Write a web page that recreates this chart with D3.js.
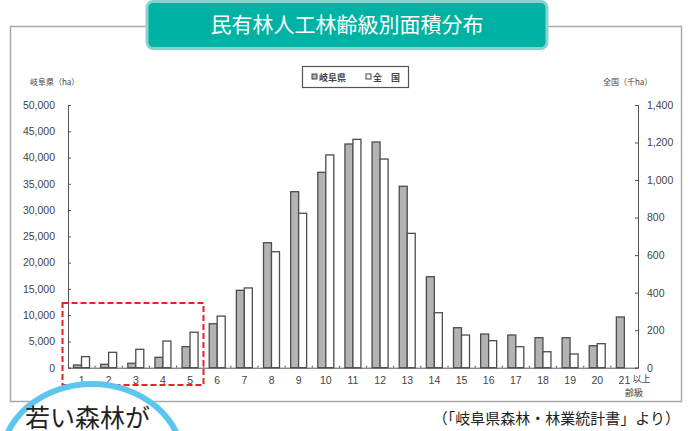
<!DOCTYPE html>
<html>
<head>
<meta charset="utf-8">
<script src="https://cdn.jsdelivr.net/npm/d3@7"></script>
<style>
  body { margin:0; background:#fff; }
  svg { display:block; font-family:"Noto Sans CJK JP", "Noto Sans", sans-serif; }
</style>
</head>
<body>
<div id="chart-area"></div>
<script>
// age classes (齢級)
const classes = ["1","2","3","4","5","6","7","8","9","10","11","12","13","14","15","16","17","18","19","20","21"];
// 岐阜県 (ha)
const gifu = [510, 650, 840, 1980, 4000, 8370, 14730, 23790, 33500, 37190, 42580, 42960, 34530, 17320, 7610, 6410, 6220, 5710, 5710, 4190, 9650];
// 全国 (千ha)
const zenkoku = [59, 82, 98, 142, 189, 275, 425, 618, 823, 1134, 1217, 1112, 716, 293, 174, 144, 112, 85, 73, 128, 0];
const leftTicks = [0, 5000, 10000, 15000, 20000, 25000, 30000, 35000, 40000, 45000, 50000];
const rightTicks = [0, 200, 400, 600, 800, 1000, 1200, 1400];

const W = 689, H = 431;
const plot = { left:68, right:638, top:105, bottom:367.7 };

const svg = d3.select("#chart-area")
    .append("svg")
    .attr("width", W)
    .attr("height", H);

// outer frame
svg.append("rect")
    .attr("x", 10.5).attr("y", 26.5)
    .attr("width", 671).attr("height", 375)
    .attr("fill", "#fff")
    .attr("stroke", "#a8a8a8")
    .attr("stroke-width", 1.5);

// title badge
svg.append("rect")
    .attr("x", 147).attr("y", 1.5)
    .attr("width", 400).attr("height", 47)
    .attr("rx", 6)
    .attr("fill", "#00b2a3")
    .attr("stroke", "#86d4cd")
    .attr("stroke-width", 3);
svg.append("text")
    .attr("x", 347).attr("y", 32)
    .attr("text-anchor", "middle")
    .attr("font-size", "21px")
    .attr("fill", "#fff")
    .text("民有林人工林齢級別面積分布");

const x = d3.scaleBand()
    .domain(classes)
    .range([plot.left, plot.right]);

const x1 = d3.scaleBand()
    .domain(["gifu", "zenkoku"])
    .range([5.5, 21.5]);

const yL = d3.scaleLinear().domain([0, 50000]).range([plot.bottom, plot.top]);
const yR = d3.scaleLinear().domain([0, 1400]).range([plot.bottom, plot.top]);

// left axis
const leftAxis = svg.append("g")
    .attr("transform", "translate(" + plot.left + ",0)")
    .call(d3.axisLeft(yL).tickValues(leftTicks).tickSize(-3).tickPadding(13)
        .tickFormat(d3.format(",")));
leftAxis.select(".domain").attr("stroke", "#555");
leftAxis.selectAll(".tick line").attr("stroke", "#555");
leftAxis.selectAll("text").attr("font-size", "10.5px").attr("fill", "#444")
    .attr("font-family", "Liberation Sans, Arial, sans-serif");

// right axis
const rightAxis = svg.append("g")
    .attr("transform", "translate(" + plot.right + ",0)")
    .call(d3.axisRight(yR).tickValues(rightTicks).tickSize(-3).tickPadding(9)
        .tickFormat(d3.format(",")));
rightAxis.select(".domain").attr("stroke", "#555");
rightAxis.selectAll(".tick line").attr("stroke", "#555");
rightAxis.selectAll("text").attr("font-size", "10.5px").attr("fill", "#444")
    .attr("font-family", "Liberation Sans, Arial, sans-serif");

// x axis
const xAxis = svg.append("g")
    .attr("transform", "translate(0," + plot.bottom + ")")
    .call(d3.axisBottom(x).tickSize(0).tickPadding(9));
xAxis.select(".domain").attr("stroke", "#555");
xAxis.selectAll("text").attr("font-size", "10.5px").attr("fill", "#444")
    .attr("font-family", "Liberation Sans, Arial, sans-serif");

// small marks between classes
svg.append("g").selectAll("line")
    .data(classes.slice(1))
    .enter().append("line")
    .attr("x1", d => x(d)).attr("x2", d => x(d))
    .attr("y1", plot.bottom - 2).attr("y2", plot.bottom)
    .attr("stroke", "#555");

// bars
const groups = svg.append("g").selectAll("g")
    .data(classes)
    .enter().append("g")
    .attr("transform", d => "translate(" + x(d) + ",0)");

groups.append("rect")
    .attr("x", x1("gifu"))
    .attr("width", x1.bandwidth())
    .attr("y", (d, i) => yL(gifu[i]))
    .attr("height", (d, i) => plot.bottom - yL(gifu[i]))
    .attr("fill", "#b3b3b3")
    .attr("stroke", "#4d4d4d")
    .attr("stroke-width", 1.3);

groups.filter((d, i) => zenkoku[i] > 0).append("rect")
    .attr("x", x1("zenkoku"))
    .attr("width", x1.bandwidth())
    .attr("y", d => yR(zenkoku[classes.indexOf(d)]))
    .attr("height", d => plot.bottom - yR(zenkoku[classes.indexOf(d)]))
    .attr("fill", "#fff")
    .attr("stroke", "#4d4d4d")
    .attr("stroke-width", 1.3);

// axis titles
svg.append("text")
    .attr("x", 30).attr("y", 85)
    .attr("font-size", "8px").attr("fill", "#444")
    .text("岐阜県（ha）");
svg.append("text")
    .attr("x", 603).attr("y", 85)
    .attr("font-size", "8px").attr("fill", "#444")
    .text("全国（千ha）");

// 以上 / 齢級
svg.append("text")
    .attr("x", x("21") + x.bandwidth() / 2 + 8).attr("y", 382)
    .attr("font-size", "9px").attr("fill", "#444")
    .text("以上");
svg.append("text")
    .attr("x", 643).attr("y", 396)
    .attr("text-anchor", "end")
    .attr("font-size", "9px").attr("fill", "#444")
    .text("齢級");

// legend
const legend = svg.append("g");
legend.append("rect")
    .attr("x", 302.5).attr("y", 66.5)
    .attr("width", 106).attr("height", 21)
    .attr("fill", "#fff")
    .attr("stroke", "#555")
    .attr("stroke-width", 1.2);
legend.append("rect")
    .attr("x", 312).attr("y", 74).attr("width", 5).attr("height", 5)
    .attr("fill", "#b3b3b3").attr("stroke", "#444");
legend.append("text")
    .attr("x", 319).attr("y", 81)
    .attr("font-size", "9px").attr("font-weight", "bold").attr("fill", "#444")
    .text("岐阜県");
legend.append("rect")
    .attr("x", 366).attr("y", 74).attr("width", 5).attr("height", 5)
    .attr("fill", "#fff").attr("stroke", "#444");
legend.append("text")
    .attr("x", 373).attr("y", 81)
    .attr("font-size", "9px").attr("font-weight", "bold").attr("fill", "#444")
    .attr("xml:space", "preserve")
    .text("全　国");

// red dashed highlight
svg.append("rect")
    .attr("x", 62.5).attr("y", 303)
    .attr("width", 141).attr("height", 82)
    .attr("fill", "none")
    .attr("stroke", "#e8202a")
    .attr("stroke-width", 2)
    .attr("stroke-dasharray", "6,3");

// source
svg.append("text")
    .attr("x", 680).attr("y", 424)
    .attr("text-anchor", "end")
    .attr("font-size", "15px").attr("fill", "#222")
    .text("（「岐阜県森林・林業統計書」より）");

// bubble bottom-left
svg.append("ellipse")
    .attr("cx", 92).attr("cy", 462)
    .attr("rx", 91).attr("ry", 78)
    .attr("fill", "#fff")
    .attr("stroke", "#5cc6ef")
    .attr("stroke-width", 6);
svg.append("text")
    .attr("x", 25).attr("y", 427)
    .attr("font-size", "25px").attr("fill", "#222")
    .text("若い森林が");
</script>
</body>
</html>
